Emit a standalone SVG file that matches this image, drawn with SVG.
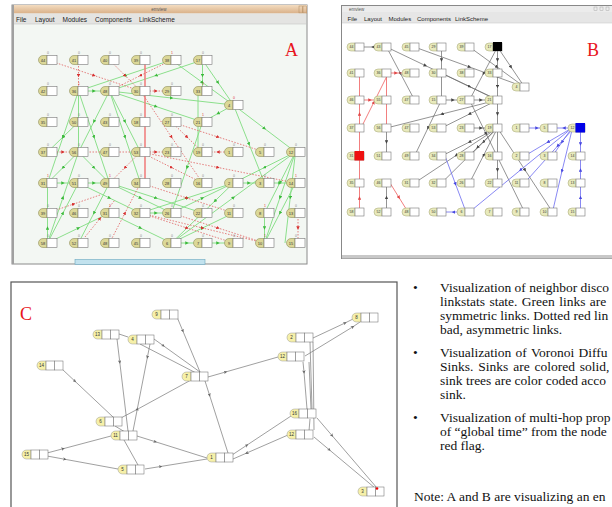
<svg xmlns="http://www.w3.org/2000/svg" xmlns:xlink="http://www.w3.org/1999/xlink" width="612" height="507" viewBox="0 0 612 507">
<style>
.menu{font-family:"Liberation Sans",Arial,sans-serif;font-size:6.5px;fill:#222}
.ttl{font-family:"Liberation Sans",Arial,sans-serif;font-size:4.5px;fill:#555}
.la{font-family:"Liberation Sans",Arial,sans-serif;font-size:4px;fill:#333;text-anchor:middle}
.ta{font-family:"Liberation Sans",Arial,sans-serif;font-size:3.5px;fill:#888;text-anchor:middle}
.tr{fill:#d33}
.lb{font-family:"Liberation Sans",Arial,sans-serif;font-size:3.5px;fill:#333;text-anchor:middle}
.lc{font-family:"Liberation Sans",Arial,sans-serif;font-size:4.5px;fill:#333;text-anchor:middle}
.big{font-family:"Liberation Serif","Times New Roman",serif;font-size:18px;fill:#e8141c}
.txt{font-family:"Liberation Serif","Times New Roman",serif;font-size:13.5px;fill:#111}
.ya{fill:#dcd898;stroke:#8f8f5a;stroke-width:0.6}
.yb{fill:#e8eabc;stroke:#a0a070;stroke-width:0.5}
.yc{fill:#f6f0a8;stroke:#999;stroke-width:0.5}
.wb{fill:#fff;stroke:#777;stroke-width:0.6}
.wc{fill:#fff;stroke:#666;stroke-width:0.5}
.g{fill:none;stroke:#80dc80;stroke-width:0.9;marker-mid:url(#mg)}
.r{fill:none;stroke:#e06060;stroke-width:0.8;stroke-dasharray:1.5 1.5;marker-mid:url(#mr)}
.rs{fill:none;stroke:#f08080;stroke-width:1.6}
.k{fill:none;stroke:#666;stroke-width:0.7;marker-mid:url(#mk)}
.rb{fill:none;stroke:#f07070;stroke-width:0.9;marker-mid:url(#mrb)}
.bl{fill:none;stroke:#6a6af0;stroke-width:0.8;marker-mid:url(#mb)}
.c{fill:none;stroke:#777;stroke-width:0.7}
.cm{marker-mid:url(#mc)}
</style>
<defs>
<linearGradient id="tan" x1="0" y1="0" x2="0" y2="1"><stop offset="0" stop-color="#f3dcc0"/><stop offset="1" stop-color="#d9b088"/></linearGradient>
<marker id="mg" viewBox="0 0 10 10" refX="5" refY="5" markerWidth="3.5" markerHeight="3.5" markerUnits="userSpaceOnUse" orient="auto"><path d="M0,0 L10,5 L0,10 z" fill="#3cba3c"/></marker>
<marker id="mr" viewBox="0 0 10 10" refX="5" refY="5" markerWidth="3.5" markerHeight="3.5" markerUnits="userSpaceOnUse" orient="auto"><path d="M0,0 L10,5 L0,10 z" fill="#d83030"/></marker>
<marker id="mk" viewBox="0 0 10 10" refX="5" refY="5" markerWidth="3.5" markerHeight="3.5" markerUnits="userSpaceOnUse" orient="auto"><path d="M0,0 L10,5 L0,10 z" fill="#444"/></marker>
<marker id="mrb" viewBox="0 0 10 10" refX="5" refY="5" markerWidth="3.5" markerHeight="3.5" markerUnits="userSpaceOnUse" orient="auto"><path d="M0,0 L10,5 L0,10 z" fill="#e04848"/></marker>
<marker id="mb" viewBox="0 0 10 10" refX="5" refY="5" markerWidth="3.5" markerHeight="3.5" markerUnits="userSpaceOnUse" orient="auto"><path d="M0,0 L10,5 L0,10 z" fill="#4848e0"/></marker>
<marker id="mc" viewBox="0 0 10 10" refX="5" refY="5" markerWidth="3.5" markerHeight="3.5" markerUnits="userSpaceOnUse" orient="auto"><path d="M0,0 L10,5 L0,10 L3,5 z" fill="#666"/></marker>
<g id="tA"><path d="M9,0.5 H5 A4.5,4.5 0 0 0 5,9.5 H9 Z" class="ya"/><rect x="9" y="0.5" width="10" height="9" class="wb"/></g>
<g id="tB"><path d="M8,0 H4 A4,4 0 0 0 4,8 H8 Z" class="yb"/><rect x="8" y="0" width="9" height="8" class="wb"/></g>
<g id="tC"><path d="M9,0 H4.5 A4.5,4.5 0 0 0 4.5,9 H9 Z" class="yc"/><rect x="9" y="0" width="8.5" height="9" class="wc"/><rect x="17.5" y="0" width="8.5" height="9" class="wc"/></g>
</defs>
<rect width="612" height="507" fill="#fff"/>

<g id="winA">
<rect x="12" y="5" width="295" height="259" fill="#f3f7f3" stroke="#8a8a8a" stroke-width="1"/>
<rect x="12" y="5" width="295" height="8.5" fill="url(#tan)"/>
<text class="ttl" x="159" y="11" text-anchor="middle">emview</text>
<rect x="299" y="6" width="3.5" height="7" fill="none" stroke="#b08a60" stroke-width="0.5"/>
<rect x="303" y="6" width="3.5" height="7" fill="none" stroke="#b08a60" stroke-width="0.5"/>
<rect x="13" y="13.5" width="293" height="10.5" fill="#e4e4e2"/>
<line x1="13" y1="24" x2="306" y2="24" stroke="#c8c8c8" stroke-width="0.6"/>
<text class="menu" x="16" y="21.5">File</text>
<text class="menu" x="35" y="21.5">Layout</text>
<text class="menu" x="62.5" y="21.5">Modules</text>
<text class="menu" x="95" y="21.5">Components</text>
<text class="menu" x="139" y="21.5">LinkScheme</text>
<rect x="12" y="5" width="2" height="259" fill="#a0a0a0"/>
<rect x="75" y="259.5" width="130" height="5" fill="#c2e2ee" stroke="#6aa8c0" stroke-width="0.6"/>
<text class="big" x="285" y="56">A</text>
</g>

<g id="winB">
<rect x="341.5" y="5.5" width="272" height="253" fill="#fff" stroke="#888" stroke-width="1"/>
<rect x="342" y="6" width="271" height="6" fill="#ececec"/>
<text class="ttl" x="349" y="10.5">emview</text>
<rect x="594" y="7" width="3" height="3.5" fill="none" stroke="#999" stroke-width="0.4"/>
<rect x="600" y="7" width="3" height="3.5" fill="none" stroke="#999" stroke-width="0.4"/>
<rect x="606" y="7" width="3" height="3.5" fill="none" stroke="#999" stroke-width="0.4"/>
<rect x="342" y="12" width="271" height="11" fill="#e6e6e6"/>
<line x1="342" y1="23" x2="612" y2="23" stroke="#ccc" stroke-width="0.6"/>
<text class="menu" x="347.5" y="20.5" style="font-size:6px">File</text>
<text class="menu" x="364" y="20.5" style="font-size:6px">Layout</text>
<text class="menu" x="388.5" y="20.5" style="font-size:6px">Modules</text>
<text class="menu" x="417" y="20.5" style="font-size:6px">Components</text>
<text class="menu" x="455" y="20.5" style="font-size:6px">LinkScheme</text>
<rect x="342" y="255" width="271" height="3.5" fill="#c8c8c8"/>
<text class="big" x="587" y="56">B</text>
</g>

<g id="frameC">
<rect x="11" y="282" width="386" height="235" fill="#fff" stroke="#555" stroke-width="1.2"/>
<text class="big" x="20" y="320">C</text>
</g>

<g id="connectors">
<path class="g" d="M202.5,60 L156,75.5 L109.5,91"/>
<path class="g" d="M171.5,60 L125,75.5 L78.5,91"/>
<path class="g" d="M202.5,60 L202.5,75.5 L202.5,91"/>
<path class="g" d="M202.5,60 L218,82.5 L233.5,105"/>
<path class="g" d="M171.5,60 L202.5,82.5 L233.5,105"/>
<path class="g" d="M78.5,91 L94,91 L109.5,91"/>
<path class="g" d="M109.5,91 L156,106.5 L202.5,122"/>
<path class="g" d="M109.5,91 L171.5,98 L233.5,105"/>
<path class="g" d="M78.5,91 L63,137 L47.5,183"/>
<path class="g" d="M78.5,91 L78.5,121.5 L78.5,152"/>
<path class="g" d="M78.5,91 L94,137 L109.5,183"/>
<path class="g" d="M109.5,91 L94,121.5 L78.5,152"/>
<path class="g" d="M109.5,91 L125,137 L140.5,183"/>
<path class="g" d="M109.5,91 L125,121.5 L140.5,152"/>
<path class="g" d="M233.5,105 L264.5,128.5 L295.5,152"/>
<path class="g" d="M233.5,105 L249,144 L264.5,183"/>
<path class="g" d="M233.5,105 L218,113.5 L202.5,122"/>
<path class="g" d="M198,91 L198,121.5 L198,152"/>
<path class="g" d="M202.5,122 L187,167.5 L171.5,213"/>
<path class="g" d="M295.5,152 L264.5,167.5 L233.5,183"/>
<path class="g" d="M295.5,152 L280,182.5 L264.5,213"/>
<path class="g" d="M295.5,152 L280,197.5 L264.5,243"/>
<path class="g" d="M295.5,152 L290.25,197.5 L285,243"/>
<path class="g" d="M233.5,183 L249,183 L264.5,183"/>
<path class="g" d="M264.5,183 L280,183 L295.5,183"/>
<path class="g" d="M233.5,183 L214.9,201 L171.5,243"/>
<path class="g" d="M295.5,183 L280,213 L264.5,243"/>
<path class="g" d="M78.5,122 L63,137 L47.5,152"/>
<path class="g" d="M78.5,152 L63,167.5 L47.5,183"/>
<path class="g" d="M78.5,152 L94,167.5 L109.5,183"/>
<path class="g" d="M47.5,183 L63,183 L78.5,183"/>
<path class="g" d="M78.5,183 L94,183 L109.5,183"/>
<path class="g" d="M47.5,243 L47.5,228 L47.5,183"/>
<path class="g" d="M47.5,243 L63,213 L78.5,183"/>
<path class="g" d="M47.5,243 L78.5,228 L109.5,213"/>
<path class="g" d="M47.5,243 L63,197.5 L78.5,152"/>
<path class="g" d="M78.5,183 L109.5,198 L140.5,213"/>
<path class="g" d="M109.5,183 L140.5,198 L171.5,213"/>
<path class="g" d="M140.5,213 L187,198 L233.5,183"/>
<path class="g" d="M171.5,213 L202.5,198 L233.5,183"/>
<path class="g" d="M171.5,243 L202.5,228 L233.5,213"/>
<path class="g" d="M171.5,243 L187,243 L202.5,243"/>
<path class="g" d="M202.5,243 L218,243 L233.5,243"/>
<path class="g" d="M109.5,213 L140.5,228 L171.5,243"/>
<path class="g" d="M109.5,183 L156,198 L202.5,213"/>
<path class="g" d="M264.5,213 L264.5,228 L264.5,243"/>
<path class="g" d="M140.5,213 L156,213 L171.5,213"/>
<path class="g" d="M109.5,183 L94,213 L78.5,243"/>
<path class="g" d="M171.5,243 L233.5,197.5 L295.5,152"/>
<path class="r" d="M47.5,60 L94,75.5 L140.5,91"/>
<path class="r" d="M78.5,60 L78.5,75.5 L78.5,91"/>
<path class="r" d="M109.5,60 L125,75.5 L140.5,91"/>
<path class="rs" d="M145,62 L145,183"/>
<path class="r" d="M171.5,60 L140.5,75.5 L109.5,91"/>
<path class="r" d="M140.5,91 L156,91 L171.5,91"/>
<path class="r" d="M171.5,122 L218,137 L264.5,152"/>
<path class="r" d="M171.5,122 L187,137 L202.5,152"/>
<path class="r" d="M140.5,91 L171.5,137 L202.5,183"/>
<path class="r" d="M140.5,152 L171.5,167.5 L202.5,183"/>
<path class="r" d="M47.5,152 L63,152 L140.5,152"/>
<path class="r" d="M233.5,152 L218,152 L202.5,152"/>
<path class="r" d="M140.5,152 L125,167.5 L109.5,183"/>
<path class="r" d="M47.5,213 L73.75,204 L100,195"/>
<path class="r" d="M109.5,243 L125,213 L140.5,183"/>
<path class="r" d="M140.5,213 L187,228 L233.5,243"/>
<path class="r" d="M140.5,213 L202.5,228 L264.5,243"/>
<path class="r" d="M298,213 L298,228 L298,243"/>
<path class="r" d="M140.5,183 L187,198 L233.5,213"/>
<path class="r" d="M85,237 L100,218.5 L115,200"/>
<path class="r" d="M140.5,152 L156,152 L171.5,152"/>
<path class="r" d="M140.5,152 L218,167.5 L295.5,183"/>
<path class="r" d="M171.5,213 L218,228 L264.5,243"/>

<path class="k" d="M386.5,47 L373,47 L359.5,47"/>
<path class="k" d="M386.5,47 L400.5,73.5 L414.5,100"/>
<path class="k" d="M386.5,47 L425.4,65.6 L497.5,100"/>
<path class="k" d="M414.5,47 L469.5,67 L524.5,87"/>
<path class="k" d="M441.5,47 L441.5,60 L441.5,100"/>
<path class="k" d="M469.5,47 L497,67 L524.5,87"/>
<path class="k" d="M497.5,47 L511,67 L524.5,87"/>
<path class="k" d="M497.5,47 L497.5,60 L497.5,73"/>
<path class="k" d="M497.5,47 L483.5,73.5 L469.5,100"/>
<path class="k" d="M441.5,73 L469.5,86.5 L497.5,100"/>
<path class="k" d="M445,100 L453,100 L461,100"/>
<path class="k" d="M473,100 L481,100 L489,100"/>
<path class="k" d="M497.5,73 L497.5,86.5 L497.5,100"/>
<path class="k" d="M497.5,100 L442,114 L386.5,128"/>
<path class="k" d="M441.5,100 L428,128 L414.5,156"/>
<path class="k" d="M497.5,100 L469.5,114 L441.5,128"/>
<path class="k" d="M497.5,100 L497.5,114 L497.5,128"/>
<path class="k" d="M473,128 L481,128 L489,128"/>
<path class="k" d="M497.5,128 L456,155.5 L414.5,183"/>
<path class="k" d="M497.5,128 L469.5,142 L441.5,156"/>
<path class="k" d="M497.5,128 L483.5,142 L469.5,156"/>
<path class="k" d="M497.5,128 L483.5,155.5 L469.5,183"/>
<path class="k" d="M497.5,128 L497.5,170 L497.5,183"/>
<path class="k" d="M469.5,100 L486,133.6 L524.5,212"/>
<path class="k" d="M497.5,128 L525,170 L552.5,212"/>
<path class="k" d="M386.5,128 L386.5,142 L386.5,156"/>
<path class="k" d="M386.5,212 L386.5,197.5 L386.5,183"/>
<path class="k" d="M493,132 L477.6,147.3 L441.5,183"/>
<path class="rb" d="M359.5,212 L359.5,198 L359.5,156"/>
<path class="rb" d="M359.5,156 L359.5,114 L359.5,73"/>
<path class="rb" d="M361,128 L373.75,102.5 L386.5,77"/>
<path class="rb" d="M390,73 L396,73 L402,73"/>
<path class="rb" d="M362,100 L370,100 L378,100"/>
<path class="rb" d="M386.5,77 L386.5,102.5 L386.5,128"/>
<path class="rb" d="M390,183 L399,197.5 L408,212"/>
<path class="bl" d="M526,128 L537,128 L548.5,128"/>
<path class="bl" d="M572,128 L564,128 L556,128"/>
<path class="bl" d="M572,128 L548,142 L524.5,156"/>
<path class="bl" d="M572,128 L562,142 L552.5,156"/>
<path class="bl" d="M572,128 L520.5,170 L469.5,212"/>
<path class="bl" d="M572,130 L557.7,145.9 L524.5,183"/>
<path class="bl" d="M580.5,132 L580.5,144 L580.5,156"/>
<path class="bl" d="M580.5,212 L580.5,197.5 L580.5,183"/>
<path class="bl" d="M580.5,183 L580.5,170 L580.5,156"/>
<path class="bl" d="M572,130 L562,171 L552.5,212"/>
<path class="bl" d="M445,156 L455.5,184 L466,212"/>
<path class="bl" d="M461,212 L453.5,212 L446,212"/>

<path class="c cm" d="M177,317 L182.75,330.75 L200,372"/>
<path class="c cm" d="M117,339 L119.75,362 L128,431"/>
<path class="c" d="M119,334 L128,337"/>
<path class="c cm" d="M154,339 L163.2,345.6 L200,372"/>
<path class="c" d="M140,344 L198,374"/>
<path class="c cm" d="M150,344 L147.45,357 L133,431"/>
<path class="c cm" d="M62,369 L74.75,381 L113,417"/>
<path class="c cm" d="M191,380 L137,409.5 L117,420"/>
<path class="c" d="M115,426 L125,432"/>
<path class="c cm" d="M208,377 L225.5,372 L278,357"/>
<path class="c cm" d="M205,381 L209.5,395 L228,453"/>
<path class="c cm" d="M137,436 L155.2,441.7 L207,458"/>
<path class="c cm" d="M47,453 L63,448.75 L111,436"/>
<path class="c cm" d="M47,456 L64.75,459.25 L118,469"/>
<path class="c" d="M124,440 L138,465"/>
<path class="c cm" d="M145,469 L160.5,466.5 L207,459"/>
<path class="c cm" d="M232,455 L246.75,445.25 L291,416"/>
<path class="c cm" d="M288,435 L246.75,453 L233,459"/>
<path class="c cm" d="M313,338 L345,323 L353,319"/>
<path class="c cm" d="M305,356 L352.75,326.9 L360,322"/>
<path class="c" d="M310,342 L312,409"/>
<path class="c" d="M313,342 L314,430"/>
<path class="c cm" d="M303,362 L304,372 L307,409"/>
<path class="c" d="M309,362 L311,409"/>
<path class="c cm" d="M317,418 L332,435.5 L377,488"/>
<path class="c cm" d="M314,437 L329.25,449.75 L375,488"/>
<path class="c" d="M310,419 L309,431"/>
</g>

<g id="nodesA">
<g id="a-r1c1"><use href="#tA" x="38" y="55"/><text class="la" x="43" y="61.5">44</text><text class="ta" x="48" y="53.5">0</text></g>
<g id="a-r1c2"><use href="#tA" x="69" y="55"/><text class="la" x="74" y="61.5">41</text><text class="ta" x="79" y="53.5">0</text></g>
<g id="a-r1c3"><use href="#tA" x="100" y="55"/><text class="la" x="105" y="61.5">40</text><text class="ta" x="110" y="53.5">0</text></g>
<g id="a-r1c4"><use href="#tA" x="131" y="55"/><text class="la" x="136" y="61.5">39</text><text class="ta" x="141" y="53.5">0</text></g>
<g id="a-r1c5"><use href="#tA" x="162" y="55"/><text class="la" x="167" y="61.5">38</text><text class="ta tr" x="172" y="53.5">1</text></g>
<g id="a-r1c6"><use href="#tA" x="193" y="55"/><text class="la" x="198" y="61.5">17</text><text class="ta" x="203" y="53.5">0</text></g>
<g id="a-r2c1"><use href="#tA" x="38" y="86"/><text class="la" x="43" y="92.5">42</text><text class="ta" x="48" y="84.5">0</text></g>
<g id="a-r2c2"><use href="#tA" x="69" y="86"/><text class="la" x="74" y="92.5">36</text><text class="ta tr" x="79" y="84.5">1</text></g>
<g id="a-r2c3"><use href="#tA" x="100" y="86"/><text class="la" x="105" y="92.5">48</text><text class="ta" x="110" y="84.5">0</text></g>
<g id="a-r2c4"><use href="#tA" x="131" y="86"/><text class="la" x="136" y="92.5">30</text><text class="ta" x="141" y="84.5">0</text></g>
<g id="a-r2c5"><use href="#tA" x="162" y="86"/><text class="la" x="167" y="92.5">29</text><text class="ta" x="172" y="84.5">0</text></g>
<g id="a-r2c6"><use href="#tA" x="193" y="86"/><text class="la" x="198" y="92.5">33</text><text class="ta tr" x="203" y="84.5">1</text></g>
<g id="a-n4"><use href="#tA" x="224" y="100"/><text class="la" x="229" y="106.5">4</text><text class="ta tr" x="234" y="98.5">0</text></g>
<g id="a-r3c1"><use href="#tA" x="38" y="117"/><text class="la" x="43" y="123.5">35</text><text class="ta" x="48" y="115.5">0</text></g>
<g id="a-r3c2"><use href="#tA" x="69" y="117"/><text class="la" x="74" y="123.5">50</text><text class="ta" x="79" y="115.5">0</text></g>
<g id="a-r3c3"><use href="#tA" x="100" y="117"/><text class="la" x="105" y="123.5">43</text><text class="ta" x="110" y="115.5">0</text></g>
<g id="a-r3c4"><use href="#tA" x="131" y="117"/><text class="la" x="136" y="123.5">18</text><text class="ta" x="141" y="115.5">0</text></g>
<g id="a-r3c5"><use href="#tA" x="162" y="117"/><text class="la" x="167" y="123.5">27</text><text class="ta" x="172" y="115.5">0</text></g>
<g id="a-r3c6"><use href="#tA" x="193" y="117"/><text class="la" x="198" y="123.5">21</text><text class="ta tr" x="203" y="115.5">1</text></g>
<g id="a-r4c1"><use href="#tA" x="38" y="147"/><text class="la" x="43" y="153.5">37</text><text class="ta" x="48" y="145.5">0</text></g>
<g id="a-r4c2"><use href="#tA" x="69" y="147"/><text class="la" x="74" y="153.5">56</text><text class="ta" x="79" y="145.5">0</text></g>
<g id="a-r4c3"><use href="#tA" x="100" y="147"/><text class="la" x="105" y="153.5">47</text><text class="ta" x="110" y="145.5">0</text></g>
<g id="a-r4c4"><use href="#tA" x="131" y="147"/><text class="la" x="136" y="153.5">53</text><text class="ta" x="141" y="145.5">0</text></g>
<g id="a-r4c5"><use href="#tA" x="162" y="147"/><text class="la" x="167" y="153.5">23</text><text class="ta" x="172" y="145.5">0</text></g>
<g id="a-r4c6"><use href="#tA" x="193" y="147"/><text class="la" x="198" y="153.5">19</text><text class="ta" x="203" y="145.5">0</text></g>
<g id="a-r4c7"><use href="#tA" x="224" y="147"/><text class="la" x="229" y="153.5">1</text><text class="ta" x="234" y="145.5">0</text></g>
<g id="a-r4c8"><use href="#tA" x="255" y="147"/><text class="la" x="260" y="153.5">5</text><text class="ta" x="265" y="145.5">0</text></g>
<g id="a-r4c9"><use href="#tA" x="286" y="147"/><text class="la" x="291" y="153.5">12</text><text class="ta" x="296" y="145.5">0</text></g>
<g id="a-r5c1"><use href="#tA" x="38" y="178"/><text class="la" x="43" y="184.5">31</text><text class="ta tr" x="48" y="176.5">1</text></g>
<g id="a-r5c2"><use href="#tA" x="69" y="178"/><text class="la" x="74" y="184.5">51</text><text class="ta" x="79" y="176.5">0</text></g>
<g id="a-r5c3"><use href="#tA" x="100" y="178"/><text class="la" x="105" y="184.5">49</text><text class="ta tr" x="110" y="176.5">1</text></g>
<g id="a-r5c4"><use href="#tA" x="131" y="178"/><text class="la" x="136" y="184.5">34</text><text class="ta" x="141" y="176.5">0</text></g>
<g id="a-r5c5"><use href="#tA" x="162" y="178"/><text class="la" x="167" y="184.5">28</text><text class="ta" x="172" y="176.5">0</text></g>
<g id="a-r5c6"><use href="#tA" x="193" y="178"/><text class="la" x="198" y="184.5">16</text><text class="ta" x="203" y="176.5">0</text></g>
<g id="a-r5c7"><use href="#tA" x="224" y="178"/><text class="la" x="229" y="184.5">2</text><text class="ta" x="234" y="176.5">0</text></g>
<g id="a-r5c8"><use href="#tA" x="255" y="178"/><text class="la" x="260" y="184.5">3</text><text class="ta" x="265" y="176.5">0</text></g>
<g id="a-r5c9"><use href="#tA" x="286" y="178"/><text class="la" x="291" y="184.5">14</text><text class="ta tr" x="296" y="176.5">1</text></g>
<g id="a-r6c1"><use href="#tA" x="38" y="208"/><text class="la" x="43" y="214.5">39</text><text class="ta" x="48" y="206.5">0</text></g>
<g id="a-r6c2"><use href="#tA" x="69" y="208"/><text class="la" x="74" y="214.5">46</text><text class="ta" x="79" y="206.5">0</text></g>
<g id="a-r6c3"><use href="#tA" x="100" y="208"/><text class="la" x="105" y="214.5">31</text><text class="ta tr" x="110" y="206.5">1</text></g>
<g id="a-r6c4"><use href="#tA" x="131" y="208"/><text class="la" x="136" y="214.5">32</text><text class="ta" x="141" y="206.5">0</text></g>
<g id="a-r6c5"><use href="#tA" x="162" y="208"/><text class="la" x="167" y="214.5">26</text><text class="ta" x="172" y="206.5">0</text></g>
<g id="a-r6c6"><use href="#tA" x="193" y="208"/><text class="la" x="198" y="214.5">22</text><text class="ta" x="203" y="206.5">0</text></g>
<g id="a-r6c7"><use href="#tA" x="224" y="208"/><text class="la" x="229" y="214.5">11</text><text class="ta" x="234" y="206.5">0</text></g>
<g id="a-r6c8"><use href="#tA" x="255" y="208"/><text class="la" x="260" y="214.5">8</text><text class="ta tr" x="265" y="206.5">1</text></g>
<g id="a-r6c9"><use href="#tA" x="286" y="208"/><text class="la" x="291" y="214.5">13</text><text class="ta" x="296" y="206.5">0</text></g>
<g id="a-r7c1"><use href="#tA" x="38" y="238"/><text class="la" x="43" y="244.5">58</text><text class="ta" x="48" y="236.5">0</text></g>
<g id="a-r7c2"><use href="#tA" x="69" y="238"/><text class="la" x="74" y="244.5">52</text><text class="ta" x="79" y="236.5">0</text></g>
<g id="a-r7c3"><use href="#tA" x="100" y="238"/><text class="la" x="105" y="244.5">48</text><text class="ta" x="110" y="236.5">0</text></g>
<g id="a-r7c4"><use href="#tA" x="131" y="238"/><text class="la" x="136" y="244.5">45</text><text class="ta" x="141" y="236.5">0</text></g>
<g id="a-r7c5"><use href="#tA" x="162" y="238"/><text class="la" x="167" y="244.5">6</text><text class="ta" x="172" y="236.5">0</text></g>
<g id="a-r7c6"><use href="#tA" x="193" y="238"/><text class="la" x="198" y="244.5">7</text><text class="ta" x="203" y="236.5">0</text></g>
<g id="a-r7c7"><use href="#tA" x="224" y="238"/><text class="la" x="229" y="244.5">9</text><text class="ta" x="234" y="236.5">0</text></g>
<g id="a-r7c8"><use href="#tA" x="255" y="238"/><text class="la" x="260" y="244.5">10</text><text class="ta tr" x="265" y="236.5">1</text></g>
<g id="a-r7c9"><use href="#tA" x="286" y="238"/><text class="la" x="291" y="244.5">15</text><text class="ta" x="296" y="236.5">0</text></g>
</g>

<g id="nodesB">
<g id="b-r1c1"><use href="#tB" x="347" y="43"/><text class="lb" x="351.5" y="48.3">44</text></g>
<g id="b-r1c2"><use href="#tB" x="374" y="43"/><text class="lb" x="378.5" y="48.3">43</text></g>
<g id="b-r1c3"><use href="#tB" x="402" y="43"/><text class="lb" x="406.5" y="48.3">45</text></g>
<g id="b-r1c4"><use href="#tB" x="429" y="43"/><text class="lb" x="433.5" y="48.3">29</text></g>
<g id="b-r1c5"><use href="#tB" x="457" y="43"/><text class="lb" x="461.5" y="48.3">39</text></g>
<g id="b-r1c6"><use href="#tB" x="485" y="43"/><rect x="493" y="42" width="9" height="9" fill="#000"/><text class="lb" x="489.5" y="48.3">17</text></g>
<g id="b-r2c1"><use href="#tB" x="347" y="69"/><text class="lb" x="351.5" y="74.3">41</text></g>
<g id="b-r2c2"><use href="#tB" x="374" y="69"/><text class="lb" x="378.5" y="74.3">36</text></g>
<g id="b-r2c3"><use href="#tB" x="402" y="69"/><text class="lb" x="406.5" y="74.3">48</text></g>
<g id="b-r2c4"><use href="#tB" x="429" y="69"/><text class="lb" x="433.5" y="74.3">30</text></g>
<g id="b-r2c5"><use href="#tB" x="457" y="69"/><text class="lb" x="461.5" y="74.3">38</text></g>
<g id="b-r2c6"><use href="#tB" x="485" y="69"/><text class="lb" x="489.5" y="74.3">33</text></g>
<g id="b-n7"><use href="#tB" x="512" y="83"/><text class="lb" x="516.5" y="88.3">4</text></g>
<g id="b-r3c1"><use href="#tB" x="347" y="96"/><text class="lb" x="351.5" y="101.3">46</text></g>
<g id="b-r3c2"><use href="#tB" x="374" y="96"/><text class="lb" x="378.5" y="101.3">55</text></g>
<g id="b-r3c3"><use href="#tB" x="402" y="96"/><text class="lb" x="406.5" y="101.3">47</text></g>
<g id="b-r3c4"><use href="#tB" x="429" y="96"/><text class="lb" x="433.5" y="101.3">15</text></g>
<g id="b-r3c5"><use href="#tB" x="457" y="96"/><text class="lb" x="461.5" y="101.3">27</text></g>
<g id="b-r3c6"><use href="#tB" x="485" y="96"/><text class="lb" x="489.5" y="101.3">21</text></g>
<g id="b-r4c1"><use href="#tB" x="347" y="124"/><text class="lb" x="351.5" y="129.3">37</text></g>
<g id="b-r4c2"><use href="#tB" x="374" y="124"/><text class="lb" x="378.5" y="129.3">56</text></g>
<g id="b-r4c3"><use href="#tB" x="402" y="124"/><text class="lb" x="406.5" y="129.3">47</text></g>
<g id="b-r4c4"><use href="#tB" x="429" y="124"/><text class="lb" x="433.5" y="129.3">53</text></g>
<g id="b-r4c5"><use href="#tB" x="457" y="124"/><text class="lb" x="461.5" y="129.3">23</text></g>
<g id="b-r4c6"><use href="#tB" x="485" y="124"/><text class="lb" x="489.5" y="129.3">19</text></g>
<g id="b-r4c7"><use href="#tB" x="512" y="124"/><text class="lb" x="516.5" y="129.3">1</text></g>
<g id="b-r4c8"><use href="#tB" x="540" y="124"/><text class="lb" x="544.5" y="129.3">5</text></g>
<g id="b-r4c9"><use href="#tB" x="568" y="124"/><rect x="575.5" y="123" width="9.5" height="9.5" fill="#0000e8"/><text class="lb" x="572.5" y="129.3">12</text></g>
<g id="b-r5c1"><use href="#tB" x="347" y="152"/><rect x="354.5" y="151" width="9.5" height="9.5" fill="#ee1111"/><text class="lb" x="351.5" y="157.3">31</text></g>
<g id="b-r5c2"><use href="#tB" x="374" y="152"/><text class="lb" x="378.5" y="157.3">51</text></g>
<g id="b-r5c3"><use href="#tB" x="402" y="152"/><text class="lb" x="406.5" y="157.3">49</text></g>
<g id="b-r5c4"><use href="#tB" x="429" y="152"/><text class="lb" x="433.5" y="157.3">34</text></g>
<g id="b-r5c5"><use href="#tB" x="457" y="152"/><text class="lb" x="461.5" y="157.3">28</text></g>
<g id="b-r5c6"><use href="#tB" x="485" y="152"/><text class="lb" x="489.5" y="157.3">16</text></g>
<g id="b-r5c7"><use href="#tB" x="512" y="152"/><text class="lb" x="516.5" y="157.3">2</text></g>
<g id="b-r5c8"><use href="#tB" x="540" y="152"/><text class="lb" x="544.5" y="157.3">3</text></g>
<g id="b-r5c9"><use href="#tB" x="568" y="152"/><text class="lb" x="572.5" y="157.3">14</text></g>
<g id="b-r6c1"><use href="#tB" x="347" y="179"/><text class="lb" x="351.5" y="184.3">35</text></g>
<g id="b-r6c2"><use href="#tB" x="374" y="179"/><text class="lb" x="378.5" y="184.3">46</text></g>
<g id="b-r6c3"><use href="#tB" x="402" y="179"/><text class="lb" x="406.5" y="184.3">31</text></g>
<g id="b-r6c4"><use href="#tB" x="429" y="179"/><text class="lb" x="433.5" y="184.3">32</text></g>
<g id="b-r6c5"><use href="#tB" x="457" y="179"/><text class="lb" x="461.5" y="184.3">26</text></g>
<g id="b-r6c6"><use href="#tB" x="485" y="179"/><text class="lb" x="489.5" y="184.3">22</text></g>
<g id="b-r6c7"><use href="#tB" x="512" y="179"/><text class="lb" x="516.5" y="184.3">11</text></g>
<g id="b-r6c8"><use href="#tB" x="540" y="179"/><text class="lb" x="544.5" y="184.3">8</text></g>
<g id="b-r6c9"><use href="#tB" x="568" y="179"/><text class="lb" x="572.5" y="184.3">13</text></g>
<g id="b-r7c1"><use href="#tB" x="347" y="208"/><text class="lb" x="351.5" y="213.3">58</text></g>
<g id="b-r7c2"><use href="#tB" x="374" y="208"/><text class="lb" x="378.5" y="213.3">52</text></g>
<g id="b-r7c3"><use href="#tB" x="402" y="208"/><text class="lb" x="406.5" y="213.3">48</text></g>
<g id="b-r7c4"><use href="#tB" x="429" y="208"/><text class="lb" x="433.5" y="213.3">50</text></g>
<g id="b-r7c5"><use href="#tB" x="457" y="208"/><text class="lb" x="461.5" y="213.3">6</text></g>
<g id="b-r7c6"><use href="#tB" x="485" y="208"/><text class="lb" x="489.5" y="213.3">7</text></g>
<g id="b-r7c7"><use href="#tB" x="512" y="208"/><text class="lb" x="516.5" y="213.3">9</text></g>
<g id="b-r7c8"><use href="#tB" x="540" y="208"/><text class="lb" x="544.5" y="213.3">10</text></g>
<g id="b-r7c9"><use href="#tB" x="568" y="208"/><text class="lb" x="572.5" y="213.3">15</text></g>
</g>

<g id="nodesC">
<g id="c-9"><use href="#tC" x="152" y="310"/><text class="lc" x="156.5" y="316.3">9</text></g>
<g id="c-13"><use href="#tC" x="93" y="330"/><text class="lc" x="97.5" y="336.3">13</text></g>
<g id="c-4"><use href="#tC" x="128" y="335"/><text class="lc" x="132.5" y="341.3">4</text></g>
<g id="c-14"><use href="#tC" x="37" y="361"/><text class="lc" x="41.5" y="367.3">14</text></g>
<g id="c-7"><use href="#tC" x="182" y="372"/><text class="lc" x="186.5" y="378.3">7</text></g>
<g id="c-6"><use href="#tC" x="96" y="417"/><text class="lc" x="100.5" y="423.3">6</text></g>
<g id="c-11"><use href="#tC" x="111" y="431"/><text class="lc" x="115.5" y="437.3">11</text></g>
<g id="c-15"><use href="#tC" x="22" y="450"/><text class="lc" x="26.5" y="456.3">15</text></g>
<g id="c-5"><use href="#tC" x="118" y="465"/><text class="lc" x="122.5" y="471.3">5</text></g>
<g id="c-1"><use href="#tC" x="207" y="453"/><text class="lc" x="211.5" y="459.3">1</text></g>
<g id="c-8"><use href="#tC" x="352" y="313"/><text class="lc" x="356.5" y="319.3">8</text></g>
<g id="c-2"><use href="#tC" x="287" y="333"/><text class="lc" x="291.5" y="339.3">2</text></g>
<g id="c-12a"><use href="#tC" x="278" y="352"/><text class="lc" x="282.5" y="358.3">12</text></g>
<g id="c-16"><use href="#tC" x="290" y="409"/><text class="lc" x="294.5" y="415.3">16</text></g>
<g id="c-12b"><use href="#tC" x="287" y="430"/><text class="lc" x="291.5" y="436.3">12</text></g>
<g id="c-3"><use href="#tC" x="358" y="487"/><circle cx="377" cy="488.5" r="1.3" fill="#e00"/><text class="lc" x="362.5" y="493.3">3</text></g>
</g>

<g id="notes">
<text class="txt" x="413" y="292">•</text>
<text class="txt" x="440" y="292">Visualization of neighbor disco</text>
<text class="txt" x="440" y="306" word-spacing="1">linkstats state.  Green links are</text>
<text class="txt" x="440" y="320">symmetric links.  Dotted red lin</text>
<text class="txt" x="440" y="334">bad, asymmetric links.</text>
<text class="txt" x="413" y="357">•</text>
<text class="txt" x="440" y="357" word-spacing="1">Visualization of Voronoi Diffu</text>
<text class="txt" x="440" y="371" word-spacing="1.5">Sinks.  Sinks are colored solid,</text>
<text class="txt" x="440" y="385">sink trees are color coded acco</text>
<text class="txt" x="440" y="399">sink.</text>
<text class="txt" x="413" y="422">•</text>
<text class="txt" x="440" y="422">Visualization of multi-hop prop</text>
<text class="txt" x="440" y="436">of “global time” from the node</text>
<text class="txt" x="440" y="450">red flag.</text>
<text class="txt" x="414" y="501">Note: A and B are visualizing an en</text>
</g>
</svg>
